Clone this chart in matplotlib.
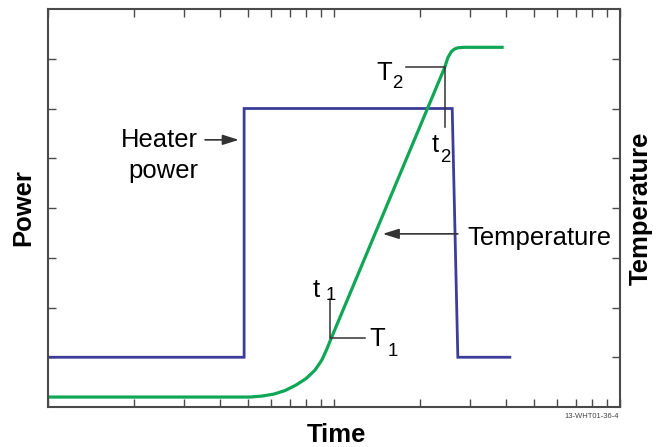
import matplotlib
matplotlib.use("Agg")
import matplotlib.pyplot as plt
from matplotlib import font_manager
from matplotlib.ticker import LogLocator, NullFormatter

# heater power: a square pulse (time on a log axis, arbitrary units)
power_time = [1.0, 4.85, 4.85, 25.9, 27.1, 41.2]
power_level = [1.0, 1.0, 6.0, 6.0, 1.0, 1.0]

# temperature response
temp_time = [1.0, 5.09, 5.60, 6.17, 6.74, 7.36, 7.98, 8.58, 9.08, 9.45, 9.76,
             24.4, 25.0, 25.7, 26.3, 27.1, 28.5, 38.7]
temp_level = [0.20, 0.20, 0.22, 0.26, 0.33, 0.44, 0.57, 0.74, 0.95, 1.17, 1.37,
              6.83, 7.02, 7.14, 7.19, 7.22, 7.23, 7.23]

# marked points on the temperature curve
t1_point = (9.7, 1.38)
t2_point = (24.4, 6.84)

names = {f.name for f in font_manager.fontManager.ttflist}
if 'Liberation Sans Narrow' in names:
    family, k = 'Liberation Sans Narrow', 1.0
else:
    family, k = 'Liberation Sans', 0.84
plt.rcParams['font.family'] = [family, 'DejaVu Sans']

BLUE = '#3b3d98'
GREEN = '#0fa656'
INK = '#333333'
FRAME = '#4a4a4a'
fs = 22 * k
fs_sub = 16 * k

fig = plt.figure(figsize=(6.6, 4.47), dpi=100)
ax = fig.add_axes([48 / 660, 40 / 447, 572 / 660, 398 / 447])

ax.plot(power_time, power_level, color=BLUE, lw=2.0, solid_joinstyle='miter')
ax.plot(temp_time, temp_level, color=GREEN, lw=2.3, solid_joinstyle='round')

ax.set_xscale('log')
ax.set_xlim(1, 100)
ax.set_ylim(0, 8)
ax.xaxis.set_major_locator(LogLocator(base=10, numticks=5))
ax.xaxis.set_minor_locator(LogLocator(base=10, subs=range(2, 10), numticks=20))
ax.xaxis.set_minor_formatter(NullFormatter())
ax.set_yticks(range(1, 8))
ax.tick_params(which='both', direction='in', length=6, width=1.0, color=FRAME,
               top=True, right=True, labelbottom=False, labelleft=False)
for s in ax.spines.values():
    s.set_color(FRAME)
    s.set_linewidth(1.5)

arrow = dict(arrowstyle='-|>,head_length=0.7,head_width=0.22', color=INK, lw=1.2,
             mutation_scale=14, shrinkA=0, shrinkB=0)

# heater power label
ax.annotate('', xy=(4.65, 5.37), xytext=(3.54, 5.37), arrowprops=arrow)
ax.text(3.35, 5.226, 'Heater', ha='right', va='baseline', fontsize=fs)
ax.text(3.35, 4.603, 'power', ha='right', va='baseline', fontsize=fs)

# temperature label
ax.annotate('', xy=(14.8, 3.48), xytext=(27.1, 3.48), arrowprops=arrow)
ax.text(29.2, 3.256, 'Temperature', ha='left', va='baseline', fontsize=fs)

# t1 / T1 bracket
ax.plot([t1_point[0], t1_point[0], 12.83], [2.17, t1_point[1], t1_point[1]],
        color=INK, lw=1.1)
ax.text(8.44, 2.211, 't', ha='left', va='baseline', fontsize=fs)
ax.text(9.35, 2.15, '1', ha='left', va='baseline', fontsize=fs_sub)
ax.text(13.26, 1.226, 'T', ha='left', va='baseline', fontsize=fs)
ax.text(15.38, 1.035, '1', ha='left', va='baseline', fontsize=fs_sub)

# t2 / T2 bracket
ax.plot([17.86, t2_point[0], t2_point[0]], [t2_point[1], t2_point[1], 5.634],
        color=INK, lw=1.1)
ax.text(14.03, 6.573, 'T', ha='left', va='baseline', fontsize=fs)
ax.text(15.95, 6.41, '2', ha='left', va='baseline', fontsize=fs_sub)
ax.text(21.96, 5.126, 't', ha='left', va='baseline', fontsize=fs)
ax.text(23.48, 4.93, '2', ha='left', va='baseline', fontsize=fs_sub)

# axis titles
ax.text(-0.044, 0.5, 'Power', transform=ax.transAxes, rotation=90,
        ha='center', va='center', fontsize=fs, fontweight='bold')
ax.text(1.037, 0.5, 'Temperature', transform=ax.transAxes, rotation=90,
        ha='center', va='center', fontsize=fs, fontweight='bold')
ax.text(0.5035, -0.088, 'Time', transform=ax.transAxes,
        ha='center', va='baseline', fontsize=fs, fontweight='bold')
ax.text(0.998, -0.025, '13-WHT01-36-4', transform=ax.transAxes,
        ha='right', va='center', fontsize=6.5 * k, color='#444444')

fig.savefig('out.png', dpi=100)
